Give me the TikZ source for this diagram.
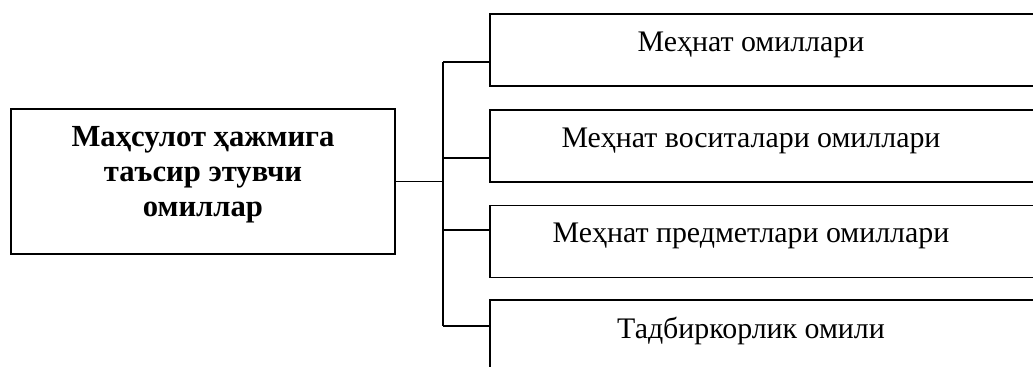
\documentclass[tikz,border=0pt]{standalone}
\usepackage{fontspec}
\setmainfont{Liberation Serif}
\usetikzlibrary{positioning}

\begin{document}
\begin{tikzpicture}[x=0.75pt,y=-0.75pt,line width=1pt,
      factor/.style={minimum width=420pt,minimum height=54pt,
        label={[draw=none,xshift=-14.25pt,yshift=4pt]center:#1}}]
      \useasboundingbox (0,0) rectangle (1033,367);
      \clip (0,0) rectangle (1033,367);
      \begin{scope}[every node/.style={rectangle,draw,inner sep=0pt,font=\fontsize{22.4}{26.25}\selectfont}]
        \node[minimum width=288pt,minimum height=108.75pt,
              label={[draw=none,yshift=5pt,align=center,font=\fontsize{23}{26.25}\selectfont\bfseries]center:Маҳсулот ҳажмига\\таъсир этувчи\\омиллар}] (main) at (203,181.5) {};
        \node[factor=Меҳнат омиллари] (f1) at (770,50) {};
        \node[factor=Меҳнат воситалари омиллари] (f2) at (770,146) {};
        \node[factor=Меҳнат предметлари омиллари] (f3) at (770,241.5) {};
        \node[factor=Тадбиркорлик омили] (f4) at (770,336) {};
      \end{scope}
      \coordinate (j1) at (443,62);
      \coordinate (j2) at (443,158);
      \coordinate (j3) at (443,230);
      \coordinate (j4) at (443,326);
      \draw (main.east) -- (main.east -| j1);
      \draw (j1) -- (j4);
      \draw (j1) -- (j1 -| f1.west);
      \draw (j2) -- (j2 -| f2.west);
      \draw (j3) -- (j3 -| f3.west);
      \draw (j4) -- (j4 -| f4.west);
    \end{tikzpicture}
\end{document}
